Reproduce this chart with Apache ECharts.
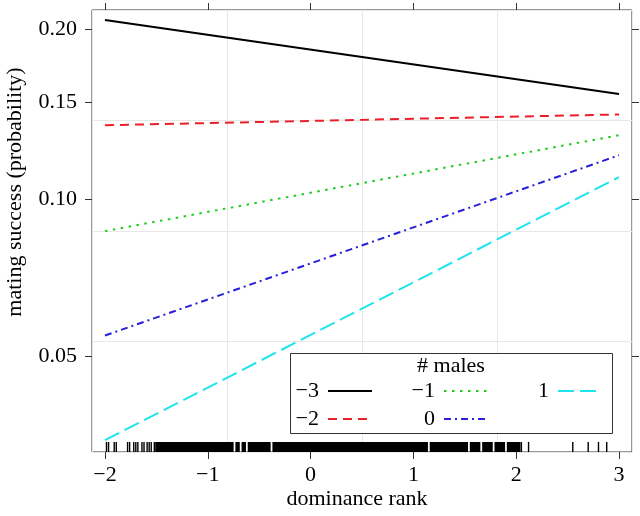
<!DOCTYPE html>
<html>
<head>
<meta charset="utf-8">
<script src="https://cdn.jsdelivr.net/npm/echarts@6/dist/echarts.min.js"></script>
<style>
    html, body { margin: 0; padding: 0; background: #fff; }
    #mating { width: 640px; height: 516px; }
</style>
</head>
<body>
<div id="mating"></div>
<script>
// 两端点 (dominance rank = -2, 3) 的概率值，线在 logit 尺度上是直线
var rankEnds = [-2, 3];
var malesMinus3 = [0.207, 0.155];
var malesMinus2 = [0.1365, 0.1427];
var malesMinus1 = [0.0871, 0.131];
var males0 = [0.0548, 0.1205];
var males1 = [0.034, 0.1099];

// rug: 稀疏的单根刻度 和 密集的一段
var rugSparse = [-1.985, -1.965, -1.91, -1.89, -1.78, -1.76, -1.72, -1.70, -1.68,
    -1.64, -1.62, -1.59, -1.57, -1.55, -1.52, 2.05, 2.12, 2.55, 2.70, 2.80, 2.88];
var rugDense = [-1.49, -1.46, -1.43, -1.40, -1.37, -1.34, -1.31, -1.28, -1.25, -1.22,
    -1.19, -1.16, -1.13, -1.10, -1.07, -1.04, -1.01, -0.98, -0.95, -0.92, -0.89, -0.86,
    -0.83, -0.80, -0.77, -0.71, -0.65, -0.59, -0.56, -0.53, -0.50, -0.47, -0.44, -0.41,
    -0.35, -0.32, -0.29, -0.26, -0.23, -0.20, -0.17, -0.14, -0.11, -0.08, -0.05, -0.02,
    0.01, 0.04, 0.07, 0.10, 0.13, 0.16, 0.19, 0.22, 0.25, 0.28, 0.31, 0.34, 0.37, 0.40,
    0.43, 0.46, 0.49, 0.52, 0.55, 0.58, 0.61, 0.64, 0.67, 0.70, 0.73, 0.76, 0.79, 0.82,
    0.85, 0.88, 0.91, 0.94, 0.97, 1.00, 1.03, 1.06, 1.09, 1.12, 1.18, 1.21, 1.24, 1.27,
    1.30, 1.33, 1.36, 1.39, 1.42, 1.45, 1.48, 1.51, 1.57, 1.60, 1.63, 1.69, 1.72, 1.75,
    1.81, 1.84, 1.87, 1.93, 1.96, 1.99, 2.02];

var rankTicks = [-2, -1, 0, 1, 2, 3];
var probTicks = [0.05, 0.10, 0.15, 0.20];
var rankRange = [-2.126, 3.126];
var probRange = [0.0322, 0.215];

var FONT = '"Liberation Serif", "DejaVu Serif", serif';
var FSIZE = 22;

function logit(p) {
    return Math.log(p / (1 - p));
}

function toPairs(xs, ps) {
    var out = [];
    for (var i = 0; i < xs.length; i++) {
        out.push([xs[i], logit(ps[i])]);
    }
    return out;
}

function rugPairs(xs) {
    var out = [];
    for (var i = 0; i < xs.length; i++) {
        out.push([xs[i], logit(probRange[0])]);
    }
    return out;
}

function minus(v) {
    return String(v).replace('-', '\u2212');
}

lineTable('mating');

function lineTable(id) {
    var myChart = echarts.init(document.getElementById(id));
    var yMin = logit(probRange[0]);
    var yMax = logit(probRange[1]);
    var probTickVals = probTicks.map(logit);

    function lineSeries(name, vals, color, dash) {
        return {
            name: name,
            type: 'line',
            symbol: 'none',
            z: 3,
            data: toPairs(rankEnds, vals),
            lineStyle: { color: color, width: 2, type: dash, cap: 'butt' },
            itemStyle: { color: color }
        };
    }

    function rugSeries(xs, w) {
        return {
            type: 'scatter',
            data: rugPairs(xs),
            symbol: 'rect',
            symbolSize: [w, 10],
            symbolOffset: [0, -5],
            itemStyle: { color: '#000', opacity: 1 },
            z: 2
        };
    }

    function legendCol(names, right) {
        return {
            data: names,
            orient: 'vertical',
            right: right,
            top: 380,
            align: 'right',
            itemWidth: 44,
            itemHeight: 22,
            itemGap: 6,
            padding: 0,
            z: 6,
            selectedMode: false,
            itemStyle: { opacity: 0 },
            textStyle: { fontFamily: FONT, fontSize: FSIZE, color: '#000', padding: [0, 4, 0, 0] }
        };
    }

    var hidden = { show: false, onZero: false };
    var tickStyle = { color: '#333', width: 1 };

    var option = {
        animation: false,
        backgroundColor: '#fff',
        grid: {
            left: 92, right: 8, top: 10, bottom: 64,
            show: true,
            borderColor: '#333',
            borderWidth: 1,
            outerBoundsMode: 'none'
        },
        xAxis: [
            {
                type: 'value',
                min: rankRange[0],
                max: rankRange[1],
                axisLine: hidden,
                splitLine: { show: false },
                axisTick: { show: true, inside: false, length: 7, customValues: rankTicks, lineStyle: tickStyle },
                axisLabel: {
                    show: true, margin: 12, customValues: rankTicks,
                    fontFamily: FONT, fontSize: FSIZE, color: '#000',
                    formatter: function (v) { return minus(v); }
                }
            },
            {
                type: 'value',
                position: 'top',
                min: rankRange[0],
                max: rankRange[1],
                axisLine: hidden,
                splitLine: { show: false },
                axisLabel: { show: false },
                axisTick: { show: true, inside: false, length: 7, customValues: rankTicks, lineStyle: tickStyle }
            },
            {
                // 把面板分成四份的浅灰参考线
                type: 'value',
                position: 'bottom',
                min: 0, max: 4, interval: 1,
                axisLine: hidden, axisTick: { show: false }, axisLabel: { show: false },
                splitLine: { show: true, lineStyle: { color: '#e8e8e8', width: 1 } }
            }
        ],
        yAxis: [
            {
                type: 'value',
                position: 'left',
                min: yMin,
                max: yMax,
                axisLine: hidden,
                splitLine: { show: false },
                axisTick: { show: true, inside: false, length: 7, customValues: probTickVals, lineStyle: tickStyle },
                axisLabel: {
                    show: true, margin: 15, customValues: probTickVals,
                    fontFamily: FONT, fontSize: FSIZE, color: '#000',
                    formatter: function (v) { return (1 / (1 + Math.exp(-v))).toFixed(2); }
                }
            },
            {
                type: 'value',
                position: 'right',
                min: yMin,
                max: yMax,
                axisLine: hidden,
                splitLine: { show: false },
                axisLabel: { show: false },
                axisTick: { show: true, inside: false, length: 7, customValues: probTickVals, lineStyle: tickStyle }
            },
            {
                type: 'value',
                position: 'left',
                min: 0, max: 4, interval: 1,
                axisLine: hidden, axisTick: { show: false }, axisLabel: { show: false },
                splitLine: { show: true, lineStyle: { color: '#e8e8e8', width: 1 } }
            }
        ],
        legend: [
            legendCol(['\u22123', '\u22122'], 267),
            legendCol(['\u22121', '0'], 151),
            legendCol(['1'], 37)
        ],
        graphic: [
            {
                type: 'rect',
                z: 4,
                shape: { x: 290.5, y: 353.5, width: 322, height: 80 },
                style: { fill: '#fff', stroke: '#333', lineWidth: 1 }
            },
            {
                type: 'text',
                z: 6,
                x: 451,
                y: 366,
                style: { text: '# males', font: FSIZE + 'px ' + FONT, align: 'center', verticalAlign: 'middle', fill: '#000' }
            },
            {
                type: 'text',
                z: 6,
                x: 357,
                y: 499,
                style: { text: 'dominance rank', font: FSIZE + 'px ' + FONT, align: 'center', verticalAlign: 'middle', fill: '#000' }
            },
            {
                type: 'text',
                z: 6,
                x: 15,
                y: 192,
                rotation: Math.PI / 2,
                style: { text: 'mating success (probability)', font: FSIZE + 'px ' + FONT, align: 'center', verticalAlign: 'middle', fill: '#000' }
            }
        ],
        series: [
            lineSeries('\u22123', malesMinus3, '#000000', 'solid'),
            lineSeries('\u22122', malesMinus2, '#e8202a', [9, 6]),
            lineSeries('\u22121', malesMinus1, '#1ecc1e', [2.5, 5.5]),
            lineSeries('0', males0, '#2a1ed8', [7, 4, 2, 4]),
            lineSeries('1', males1, '#1ee4ee', [16, 6]),
            rugSeries(rugSparse, 1.4),
            rugSeries(rugDense, 4.4)
        ]
    };

    window.addEventListener('resize', function () {
        myChart.resize();
    });
    myChart.setOption(option);
}
</script>
</body>
</html>
